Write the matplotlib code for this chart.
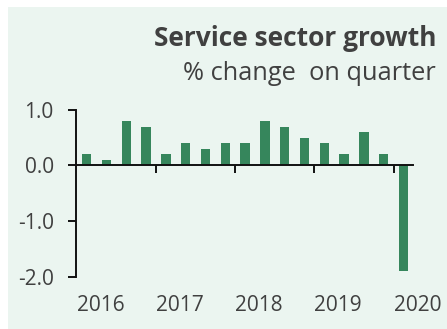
import matplotlib
matplotlib.use("Agg")
import matplotlib.pyplot as plt
from matplotlib.patches import Rectangle
import numpy as np

# Quarterly service sector growth, % change on previous quarter
quarters = ["2016 Q1", "2016 Q2", "2016 Q3", "2016 Q4",
            "2017 Q1", "2017 Q2", "2017 Q3", "2017 Q4",
            "2018 Q1", "2018 Q2", "2018 Q3", "2018 Q4",
            "2019 Q1", "2019 Q2", "2019 Q3", "2019 Q4",
            "2020 Q1"]
growth = [0.2, 0.1, 0.8, 0.7,
          0.2, 0.4, 0.3, 0.4,
          0.4, 0.8, 0.7, 0.5,
          0.4, 0.2, 0.6, 0.2,
          -1.9]
years = ["2016", "2017", "2018", "2019", "2020"]
y_ticks = [1.0, 0.0, -1.0, -2.0]

BG = "#ebf5f0"
BAR = "#36865c"
TEXT = "#404040"
INK = "#111111"

plt.rcParams["font.family"] = ["Open Sans", "DejaVu Sans"]

fig = plt.figure(figsize=(4.47, 3.29), dpi=100)
fig.patch.set_facecolor("white")
# light green panel behind the chart
fig.patches.append(Rectangle((8 / 447, 0), 1 - 8 / 447, 1 - 7 / 329,
                             transform=fig.transFigure, facecolor=BG,
                             edgecolor="none", zorder=-1))

ax = fig.add_axes([0.170, 0.159, 0.753, 0.507])
ax.set_zorder(1)
ax.set_facecolor("none")

x = np.arange(len(growth))
ax.bar(x, growth, width=0.48, color=BAR, zorder=2)

ax.set_xlim(-0.54, len(growth) - 0.54)
ax.set_ylim(-2.0, 1.0)

for side in ("top", "right"):
    ax.spines[side].set_visible(False)
ax.spines["left"].set_color(INK)
ax.spines["left"].set_linewidth(1.4)
ax.spines["bottom"].set_position(("data", 0))
ax.spines["bottom"].set_color(INK)
ax.spines["bottom"].set_linewidth(1.4)
ax.spines["bottom"].set_zorder(3)

ax.set_yticks(y_ticks)
ax.set_yticklabels([f"{v:.1f}" for v in y_ticks])
ax.tick_params(axis="y", direction="out", length=6, width=1.4,
               color=INK, pad=10, labelsize=15, labelcolor=TEXT)

# year boundaries: ticks hang down from the zero line
year_starts = np.arange(0, len(growth), 4) - 0.5
ax.set_xticks(year_starts[1:])
ax.tick_params(axis="x", direction="out", length=5.5, width=1.4,
               color=INK, labelbottom=False)

for xs, label in zip(year_starts, years):
    ax.text(xs, -0.17, label, transform=ax.get_xaxis_transform(),
            ha="left", va="center", fontsize=15, color=TEXT)

fig.text(436 / 447, 1 - 38 / 329, "Service sector growth", ha="right",
         va="center", fontsize=19, fontweight="bold", color=TEXT)
fig.text(436 / 447, 1 - 74 / 329, "% change  on quarter", ha="right",
         va="center", fontsize=18.3, color=TEXT)

fig.savefig("out.png", dpi=100, facecolor=fig.get_facecolor())
